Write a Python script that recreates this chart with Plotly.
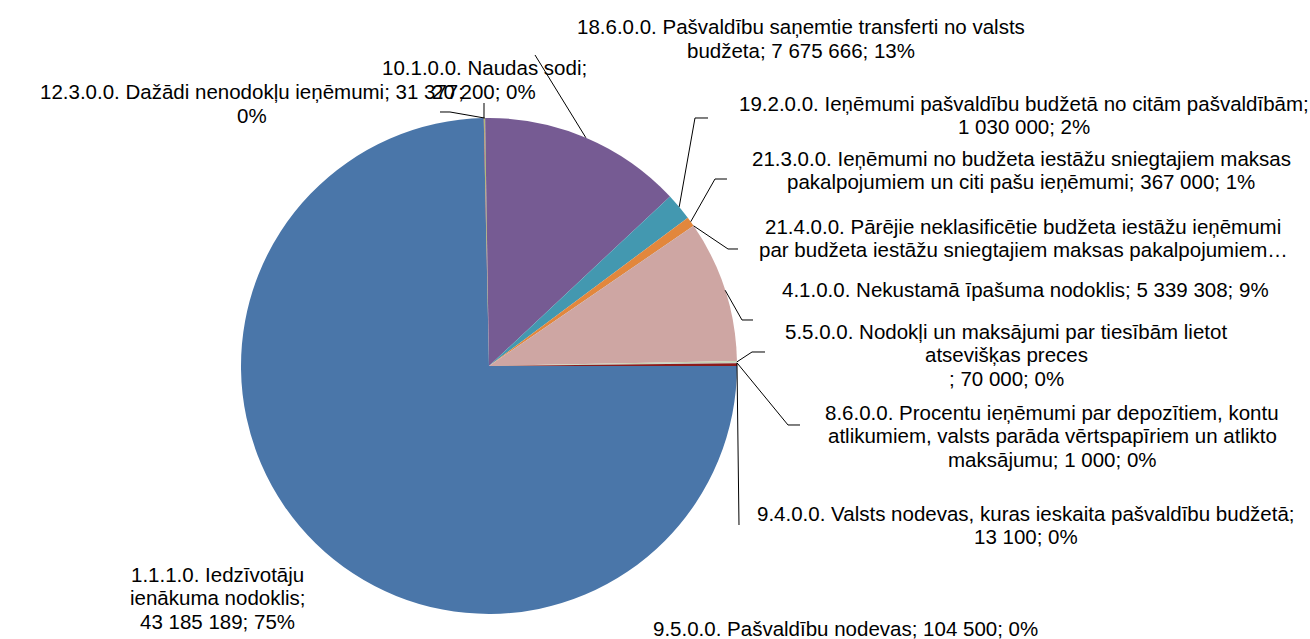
import plotly.graph_objects as go
import math

W, H = 1310, 639

codes = ["1.1.1.0.", "10.1.0.0.", "12.3.0.0.", "18.6.0.0.", "19.2.0.0.", "21.3.0.0.",
         "21.4.0.0.", "4.1.0.0.", "5.5.0.0.", "8.6.0.0.", "9.4.0.0.", "9.5.0.0."]
names = ["Iedzīvotāju ienākuma nodoklis",
         "Naudas sodi",
         "Dažādi nenodokļu ieņēmumi",
         "Pašvaldību saņemtie transferti no valsts budžeta",
         "Ieņēmumi pašvaldību budžetā no citām pašvaldībām",
         "Ieņēmumi no budžeta iestāžu sniegtajiem maksas pakalpojumiem un citi pašu ieņēmumi",
         "Pārējie neklasificētie budžeta iestāžu ieņēmumi par budžeta iestāžu sniegtajiem maksas pakalpojumiem",
         "Nekustamā īpašuma nodoklis",
         "Nodokļi un maksājumi par tiesībām lietot atsevišķas preces",
         "Procentu ieņēmumi par depozītiem, kontu atlikumiem, valsts parāda vērtspapīriem un atlikto maksājumu",
         "Valsts nodevas, kuras ieskaita pašvaldību budžetā",
         "Pašvaldību nodevas"]
values = [43185189, 20200, 31377, 7675666, 1030000, 367000,
          4000, 5339308, 70000, 1000, 13100, 104500]

# wrapped label templates as displayed ({v}=value, {p}=percent)
label_templates = [
    "1.1.1.0. Iedzīvotāju<br>ienākuma nodoklis;<br>{v}; {p}",
    "10.1.0.0. Naudas sodi;<br>{v}; {p}",
    "12.3.0.0. Dažādi nenodokļu ieņēmumi; {v};<br>{p}",
    "18.6.0.0. Pašvaldību saņemtie transferti no valsts<br>budžeta; {v}; {p}",
    "19.2.0.0. Ieņēmumi pašvaldību budžetā no citām pašvaldībām;<br>{v}; {p}",
    "21.3.0.0. Ieņēmumi no budžeta iestāžu sniegtajiem maksas<br>pakalpojumiem un citi pašu ieņēmumi; {v}; {p}",
    "21.4.0.0. Pārējie neklasificētie budžeta iestāžu ieņēmumi<br>par budžeta iestāžu sniegtajiem maksas pakalpojumiem…",
    "4.1.0.0. Nekustamā īpašuma nodoklis; {v}; {p}",
    "5.5.0.0. Nodokļi un maksājumi par tiesībām lietot<br>atsevišķas preces<br>; {v}; {p}",
    "8.6.0.0. Procentu ieņēmumi par depozītiem, kontu<br>atlikumiem, valsts parāda vērtspapīriem un atlikto<br>maksājumu; {v}; {p}",
    "9.4.0.0. Valsts nodevas, kuras ieskaita pašvaldību budžetā;<br>{v}; {p}",
    "9.5.0.0. Pašvaldību nodevas; {v}; {p}",
]

colors = ["#4a76a9", "#b94a48", "#98b954", "#765b93", "#4398b0", "#e2873c",
          "#2c4d75", "#cea6a3", "#c6cfae", "#b3a7c6", "#a6d1de", "#8c1b1b"]

# layout (pixels)
cx, cy, R = 489, 366, 248
FONT_SIZE = 20.5
LINE_H = 23.5
# centre x and centre y of first text line for each label
label_pos = [(218, 574), (484, 68), (252, 92), (801, 27), (1024, 103), (1021, 158),
             (1023, 226), (1025, 289), (1006, 331), (1052, 412), (1026, 513), (845, 628)]
leader_pts = [None, [(484, 103)], [(440, 112), (450, 112)], [(535, 55)],
              [(708, 118), (695, 118)], [(727, 179), (715, 179)], [(738, 249), (728, 249)],
              [(753, 320), (742, 320)], [(765, 352), (752, 352)], [(800, 425), (788, 425)],
              [(739, 525)], None]

total = sum(values)
def fmt(v):
    return f"{v:,}".replace(",", " ")

fig = go.Figure(go.Pie(
    labels=[c + " " + n for c, n in zip(codes, names)],
    values=values,
    sort=False,
    direction="clockwise",
    rotation=90,
    marker=dict(colors=colors, line=dict(width=0)),
    textinfo="none",
    hoverinfo="label+value+percent",
    showlegend=False,
    domain=dict(x=[(cx - R) / W, (cx + R) / W], y=[(H - cy - R) / H, (H - cy + R) / H]),
))

annotations = []
shapes = []
cum = 0.0
for i, v in enumerate(values):
    frac = v / total
    mid = 90 + (cum + frac / 2) * 360
    cum += frac
    text = label_templates[i].format(v=fmt(v), p=f"{round(frac * 100)}%")
    lx, ly = label_pos[i]
    for j, line in enumerate(text.split("<br>")):
        annotations.append(dict(x=lx / W, y=1 - (ly + j * LINE_H) / H, xref="paper", yref="paper",
                                text=line, showarrow=False, xanchor="center", yanchor="middle",
                                align="center",
                                font=dict(family="Liberation Sans, Arial", size=FONT_SIZE,
                                          color="#000000")))
    if leader_pts[i]:
        a = math.radians(mid)
        ex, ey = cx + R * math.sin(a), cy - R * math.cos(a)
        pts = leader_pts[i] + [(ex, ey)]
        path = "M " + " L ".join(f"{p[0] / W:.5f},{1 - p[1] / H:.5f}" for p in pts)
        shapes.append(dict(type="path", path=path, xref="paper", yref="paper",
                           line=dict(color="#000000", width=1)))

fig.update_layout(width=W, height=H, margin=dict(l=0, r=0, t=0, b=0),
                  paper_bgcolor="white", plot_bgcolor="white",
                  annotations=annotations, shapes=shapes)
fig.write_html("out.html", config={"displayModeBar": False},
               post_script="document.body.style.margin='0';document.body.style.overflow='hidden';")
